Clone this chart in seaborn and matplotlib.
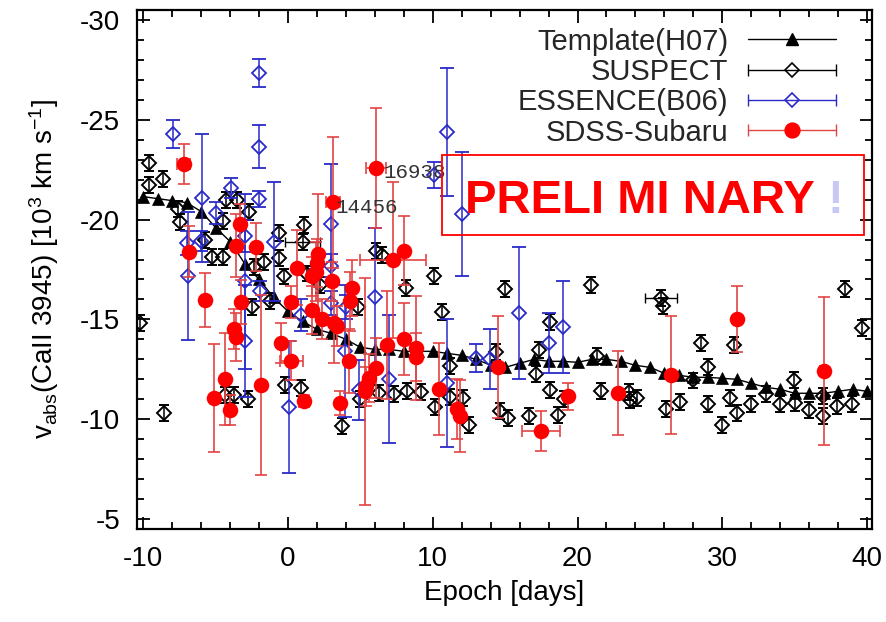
import numpy as np
import matplotlib
matplotlib.use("Agg")
import matplotlib.pyplot as plt
import seaborn as sns
from matplotlib.lines import Line2D
from matplotlib.legend_handler import HandlerLine2D, HandlerTuple
from matplotlib.patches import Rectangle
from matplotlib.ticker import MultipleLocator

# ---------------- data ----------------
tmpl_x = list(range(-10, 41))
tmpl_y = [-21.15, -21.05, -20.95, -20.85, -20.4, -19.6, -18.9, -17.8, -17.0, -16.1,
          -15.4, -14.9, -14.5, -14.3, -14.0, -13.6, -13.5, -13.5, -13.4, -13.4,
          -13.4, -13.3, -13.2, -13.0, -12.7, -12.6, -12.8, -13.0, -12.9, -12.9,
          -12.85, -13.0, -13.0, -12.9, -12.7, -12.6, -12.3, -12.2, -12.1, -12.1,
          -12.05, -12.0, -11.8, -11.6, -11.5, -11.3, -11.3, -11.3, -11.4, -11.5, -11.4]

sus_x = [-10.2, -8.6, -9.63, -9.63, -8.64, -7.6, -7.5, -5.76, -5.25, -4.49,
         -4.26, -3.52, -4.49, -2.71, -2.37, -1.67, -0.64, -0.64, -0.29, 1.1,
         1.0, -2.48, -1.22, -4.35, -3.75, -2.75, -0.2, 0.86, 3.72, 5.0,
         6.3, 7.29, 8.21, 9.18, 10.17, 11.16, 11.16, 12.12, 12.5, 1.3,
         2.22, 4.82, 6.1, 6.49, 10.1, 8.12, 10.64, 15.0, 14.39, 14.67,
         15.17, 16.62, 17.31, 17.15, 18.08, 18.12, 18.63, 19.05, 20.94, 21.31,
         21.63, 23.54, 23.61, 24.12, 25.78, 25.92, 26.08, 27.07, 28.0, 28.5,
         29.0, 29.0, 30.0, 30.53, 30.8, 31.04, 31.96, 33.0, 33.99, 34.95,
         35.0, 35.99, 36.98, 36.98, 37.95, 38.46, 38.99, 39.68]
sus_y = [-14.8, -10.3, -22.82, -21.74, -22.02, -20.55, -19.9, -18.98, -18.15, -18.12,
         -21.0, -21.0, -19.95, -20.4, -17.65, -17.9, -19.32, -18.07, -17.15, -19.73,
         -18.9, -15.6, -15.9, -11.2, -11.2, -11.0, -11.73, -11.58, -9.67, -11.0,
         -11.3, -11.27, -11.4, -11.34, -10.6, -12.65, -11.12, -11.05, -9.72, -17.3,
         -16.73, -15.63, -18.44, -18.25, -17.18, -16.56, -15.37, -16.51, -13.39, -10.4,
         -10.06, -10.18, -13.47, -12.27, -14.89, -11.47, -10.22, -11.02, -16.73, -13.17,
         -11.39, -11.34, -10.97, -11.06, -16.06, -15.68, -10.51, -10.84, -11.94, -13.84,
         -12.64, -10.77, -9.72, -11.06, -13.72, -10.31, -10.77, -11.27, -10.77, -11.97,
         -10.8, -10.44, -11.14, -10.14, -10.64, -16.51, -10.77, -14.56]
sus_yerr = [0.4] * len(sus_x)
sus_xerr = [0.0] * len(sus_x)
sus_xerr[20] = 1.2
sus_xerr[64] = 1.1

ess_x = [-7.97, -1.98, -1.98, -1.98, -5.95, -6.05, -6.98, -6.9, -4.95, -3.94,
         -2.95, -2.95, -2.95, -1.0, -1.93, 0.86, 0.05, 3.0, 3.0, 3.0,
         4.0, 3.95, 4.93, 6.03, 6.95, 10.06, 11.0, 12.0, 10.97, 13.0,
         13.97, 15.98, 18.0, 19.0]
ess_y = [-24.28, -27.36, -23.66, -21.02, -21.07, -18.95, -18.85, -17.18, -20.34, -21.6,
         -19.2, -16.9, -13.9, -18.9, -16.4, -15.23, -10.6, -19.8, -17.7, -15.8,
         -15.6, -13.4, -11.47, -16.1, -12.0, -22.24, -24.4, -20.27, -11.8, -13.06,
         -13.0, -15.31, -13.8, -14.6]
ess_yerr = [0.7, 0.7, 1.08, 0.4, 3.2, 0.5, 0.6, 3.2, 0.55, 0.5,
            0.8, 4.4, 2.8, 3.0, 0.5, 0.8, 3.3, 3.0, 0.6, 0.6,
            0.6, 3.3, 1.5, 3.5, 3.2, 0.65, 3.2, 3.1, 3.2, 0.7,
            1.5, 3.3, 1.5, 2.3]

sdss_x = [-7.21, -6.86, -5.75, -3.34, -3.63, -2.25, -3.24, -3.75, -3.57, -4.33,
          -5.09, -3.98, -1.86, -0.52, 0.21, 0.21, 0.63, 1.1, 2.1, 2.0,
          1.95, 1.64, 3.03, 4.41, 4.3, 1.64, 2.33, 3.14, 3.37, 3.1,
          6.1, 7.24, 7.99, 3.6, 4.18, 6.83, 8.03, 8.86, 8.86, 6.1,
          5.56, 5.4, 5.33, 10.4, 11.7, 11.85, 14.48, 17.49, 19.32, 22.81,
          26.47, 31.04, 37.02]
sdss_y = [-22.79, -18.4, -15.98, -19.78, -18.7, -18.65, -15.85, -14.51, -14.14, -12.01,
          -11.06, -10.47, -11.73, -13.81, -12.94, -15.85, -17.6, -10.89, -18.3, -17.82,
          -17.4, -17.15, -16.9, -16.56, -15.9, -15.48, -15.0, -14.83, -14.66, -20.86,
          -22.57, -17.98, -18.45, -10.81, -12.9, -13.72, -14.0, -13.56, -13.1, -12.56,
          -12.06, -11.64, -11.39, -11.51, -10.5, -10.14, -12.6, -9.4, -11.14, -11.31,
          -12.22, -15.0, -12.4]
sdss_yerr = [1.0, 1.3, 1.35, 1.0, 1.6, 1.2, 1.1, 1.0, 1.2, 2.3,
             2.7, 0.75, 4.5, 1.0, 1.0, 0.8, 1.9, 0.3, 3.0, 1.2,
             1.5, 1.0, 1.0, 1.4, 1.5, 1.2, 1.0, 2.0, 1.0, 3.3,
             3.0, 3.9, 1.75, 0.6, 1.6, 2.7, 1.8, 2.6, 1.2, 1.5,
             1.2, 1.0, 5.7, 2.3, 1.5, 1.8, 2.55, 1.0, 0.67, 2.1,
             2.95, 1.65, 3.7]
sdss_xerr = [0.45, 0, 0, 0, 0, 0, 0, 0, 0, 0,
             0, 0, 0, 0, 0.8, 0, 0, 0.3, 0, 0,
             0, 0, 0, 0, 0, 0, 0, 0, 0, 0.5,
             0.7, 2.3, 0, 0, 0, 0, 0, 0, 0, 0,
             0, 0, 0, 0, 0, 0, 0, 1.3, 0, 0,
             0, 0, 0.3]

series_labels = ["Template(H07)", "SUSPECT", "ESSENCE(B06)", "SDSS-Subaru"]
note_ids = ["14456", "16938"]
note_x = [3.26, 6.58]
note_y = [-20.63, -22.36]

# ---------------- style ----------------
sns.set_theme(style="ticks")
plt.rcParams["font.family"] = ["Liberation Sans", "DejaVu Sans"]
plt.rcParams["mathtext.fontset"] = "custom"
plt.rcParams["mathtext.rm"] = "Liberation Sans"
plt.rcParams["mathtext.it"] = "Liberation Sans:italic"
plt.rcParams["mathtext.bf"] = "Liberation Sans:bold"
plt.rcParams["axes.unicode_minus"] = False

BLACK = "#000000"
BLUE = "#2a2ac8"
RED = "#ff0000"
RED_ERR = "#e34444"

fig = plt.figure(figsize=(8.87, 6.22), dpi=100)
ax = fig.add_axes([0.1545, 0.1495, 0.8286, 0.8344])

# Template
sns.lineplot(x=tmpl_x, y=tmpl_y, ax=ax, color=BLACK, lw=1.0, marker="^",
             markersize=8.5, markeredgecolor=BLACK, markerfacecolor=BLACK,
             markeredgewidth=0.5, legend=False, zorder=2)

def xerr_subset(xs, ys, xe):
    idx = [i for i, e in enumerate(xe) if e > 0]
    return [xs[i] for i in idx], [ys[i] for i in idx], [xe[i] for i in idx]

# SUSPECT
ax.errorbar(sus_x, sus_y, yerr=sus_yerr, fmt="D", ms=7, mfc="none", mec=BLACK,
            mew=1.4, ecolor=BLACK, elinewidth=1.1, capsize=3.5, capthick=1.1, zorder=3)
sx, sy, sxe = xerr_subset(sus_x, sus_y, sus_xerr)
ax.errorbar(sx, sy, xerr=sxe, fmt="none", ecolor=BLACK, elinewidth=1.0,
            capsize=3.5, capthick=1.0, zorder=3)

# ESSENCE
ax.errorbar(ess_x, ess_y, yerr=ess_yerr, fmt="D", ms=7.5, mfc="none", mec=BLUE,
            mew=1.3, ecolor=BLUE, elinewidth=1.1, capsize=5, capthick=1.1, zorder=4)

# SDSS-Subaru
ax.errorbar(sdss_x, sdss_y, yerr=sdss_yerr, fmt="none", ecolor=RED_ERR,
            elinewidth=1.2, capsize=4.5, capthick=1.2, zorder=5)
rx, ry, rxe = xerr_subset(sdss_x, sdss_y, sdss_xerr)
ax.errorbar(rx, ry, xerr=rxe, fmt="none", ecolor=RED_ERR, elinewidth=1.2,
            capsize=4.5, capthick=1.2, zorder=5)
sns.scatterplot(x=sdss_x, y=sdss_y, ax=ax, color=RED, s=125, linewidth=0,
                legend=False, zorder=6)

# object ids
for t, x, y in zip(note_ids, note_x, note_y):
    ax.text(x, y, t, family="Liberation Mono", fontsize=15, color="#333333",
            ha="left", va="center", zorder=7)

# axes
ax.set_xlim(-10.435, 40.345)
ax.set_ylim(-4.5, -30.5)
ax.xaxis.set_major_locator(MultipleLocator(10))
ax.xaxis.set_minor_locator(MultipleLocator(2))
ax.yaxis.set_major_locator(MultipleLocator(5))
ax.yaxis.set_minor_locator(MultipleLocator(1))
ax.tick_params(which="both", direction="in", top=True, right=True,
               width=1.3, color=BLACK)
ax.tick_params(which="major", length=9, labelsize=20, pad=12, labelcolor=BLACK)
ax.tick_params(which="minor", length=5)
for sp in ax.spines.values():
    sp.set_linewidth(1.6)
    sp.set_color(BLACK)
ax.grid(False)

ax.set_xlabel("Epoch [days]", fontsize=20, labelpad=6, color=BLACK)
ax.set_ylabel(r"v$_{\rm abs}$(CaII 3945) [10$^3$ km s$^{-1}$]", fontsize=20,
              labelpad=14, color=BLACK)

# legend
h_t = Line2D([], [], color=BLACK, lw=1.0, marker="^", ms=8.5)
handles = [h_t]
handler_map = {tuple: HandlerTuple(ndivide=1, pad=0)}
for col, mk, mfc, ms in [(BLACK, "D", "none", 7), (BLUE, "D", "none", 7.5), (RED, "o", RED, 10.5)]:
    lc = RED_ERR if col == RED else col
    cap = Line2D([], [], color=lc, lw=1.0, marker="|", ms=9, mew=1.0)
    m = Line2D([], [], ls="none", marker=mk, ms=ms, mfc=mfc, mec=col, mew=1.2)
    handler_map[cap] = HandlerLine2D(numpoints=2, marker_pad=0)
    handles.append((cap, m))
leg = ax.legend(handles, series_labels, loc="upper right", bbox_to_anchor=(0.951, 0.966),
                frameon=False, markerfirst=False, numpoints=1, handlelength=3.0,
                handletextpad=0.7, labelspacing=0.08, borderpad=0, borderaxespad=0,
                fontsize=21, handler_map=handler_map)

# preliminary stamp
ax.add_patch(Rectangle((0.415, 0.5665), 0.574, 0.1541, transform=ax.transAxes,
                       fill=False, ec="red", lw=1.3, zorder=8))
ax.text(0.4463, 0.6083, "PRELI MI NARY", transform=ax.transAxes, fontsize=34,
        fontweight="bold", color="red", ha="left", va="baseline", zorder=8)
ax.text(0.9497, 0.6083, "!", transform=ax.transAxes, fontsize=34,
        fontweight="bold", color="#c8c8f4", ha="center", va="baseline", zorder=8)

fig.savefig("out.png", dpi=100)
